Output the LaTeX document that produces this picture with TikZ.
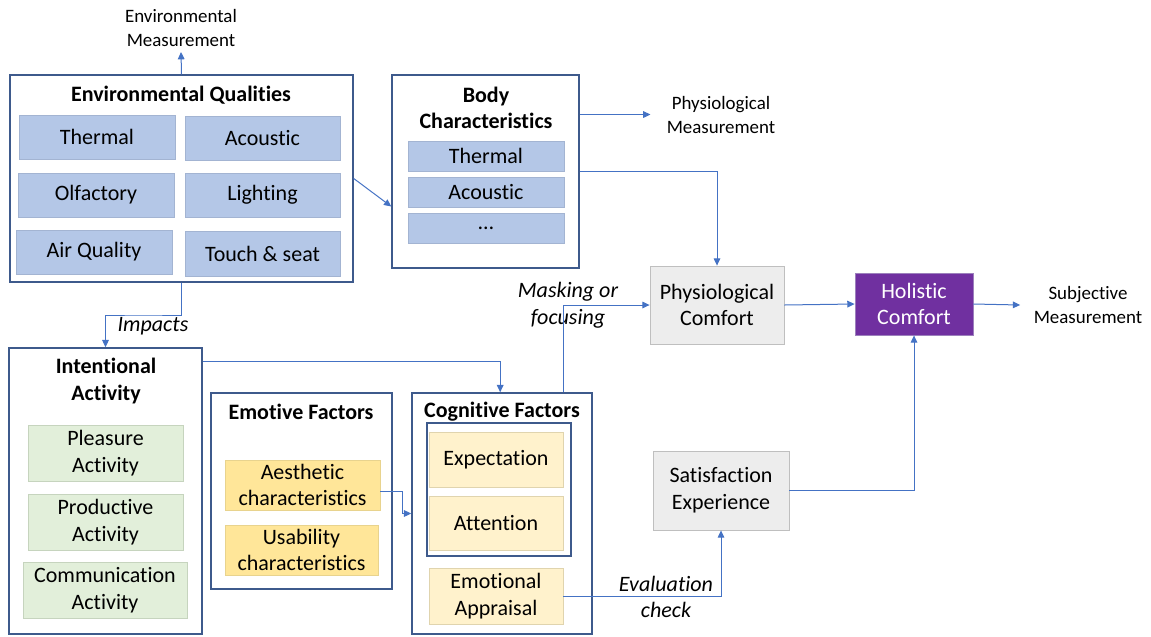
\documentclass[tikz,border=0pt]{standalone}
\usepackage{fontspec}
\setmainfont{Carlito}[Ligatures={NoCommon}]
\usetikzlibrary{arrows.meta,calc}
\definecolor{outerc}{HTML}{3E5A8C}
\definecolor{arrc}{HTML}{4472C4}
\definecolor{bluef}{HTML}{B4C7E7}
\definecolor{blueb}{HTML}{A3B4D2}
\definecolor{greenf}{HTML}{E2EFDA}
\definecolor{greenb}{HTML}{C6D4BE}
\definecolor{goldf}{HTML}{FFE699}
\definecolor{goldb}{HTML}{E8D38E}
\definecolor{creamf}{HTML}{FFF2CC}
\definecolor{creamb}{HTML}{E0D4AE}
\definecolor{grayf}{HTML}{EDEDED}
\definecolor{grayb}{HTML}{BFBFBF}
\definecolor{purpf}{HTML}{7030A0}
\definecolor{purpb}{HTML}{9C80BC}
\newcommand\mainsz{\fontsize{16.5}{20}\selectfont}
\newcommand\lblsz{\fontsize{14.2}{17.6}\selectfont}
\newcommand\bx[7]{\node[#2, minimum width={(#5-#3)*0.75pt}, minimum height={(#6-#4)*0.75pt}] (#1) at ({(#3+#5)/2},{(#4+#6)/2}) {#7};}
\begin{document}
\begin{tikzpicture}[x=0.75pt,y=-0.75pt,
  outer/.style={draw=outerc, line width=1.1pt, fill=white, inner sep=0pt},
  inner/.style={draw=outerc, line width=1pt, inner sep=0pt},
  sub/.style={line width=0.6pt, font=\mainsz, align=center, inner sep=1pt},
  bluebox/.style={sub, draw=blueb, fill=bluef},
  greenbox/.style={sub, draw=greenb, fill=greenf},
  goldbox/.style={sub, draw=goldb, fill=goldf},
  creambox/.style={sub, draw=creamb, fill=creamf},
  graybox/.style={sub, draw=grayb, fill=grayf},
  purpbox/.style={sub, draw=purpb, fill=purpf, text=white},
  title/.style={font=\mainsz\bfseries, align=center, inner sep=1pt},
  lbl/.style={font=\lblsz, align=center, inner sep=2pt},
  ital/.style={font=\mainsz\itshape, align=center, inner sep=1pt},
  arr/.style={draw=arrc, line width=0.75pt, -{Triangle[length=5.5pt,width=5pt]}},
  ln/.style={draw=arrc, line width=0.75pt}
]
\useasboundingbox (0,0) rectangle (1151,636);

% outer boxes
\bx{eq}{outer}{10}{75}{353}{282}{}
\bx{bc}{outer}{392}{75}{579}{268}{}
\bx{ia}{outer}{9}{348}{202}{634}{}
\bx{ef}{outer}{211}{393}{392}{589}{}
\bx{cf}{outer}{412}{393}{592}{634}{}

% titles
\node[title] (eqt) at (181,95) {Environmental Qualities};
\node[title] (bct) at (486,108) {Body\\Characteristics};
\node[title] (iat) at (106,381) {Intentional\\Activity};
\node[title] (eft) at (301,412) {Emotive Factors};
\node[title] (cft) at (502,412) {Cognitive Factors};

% environmental qualities
\bx{eqth}{bluebox}{19}{115}{175}{159}{Thermal}
\bx{eqac}{bluebox}{185}{116}{340}{160}{Acoustic}
\bx{eqol}{bluebox}{18}{173}{174}{217}{Olfactory}
\bx{eqli}{bluebox}{185}{173}{340}{217}{Lighting}
\bx{eqai}{bluebox}{16}{230}{172}{274}{Air Quality}
\bx{eqto}{bluebox}{185}{231}{340}{276}{Touch \& seat}

% body characteristics
\bx{bcth}{bluebox}{408}{141}{564}{171}{Thermal}
\bx{bcac}{bluebox}{408}{177}{564}{207}{Acoustic}
\bx{bcdo}{bluebox}{408}{213}{564}{243}{\dots}

% intentional activity
\bx{iapl}{greenbox}{28}{425}{183}{481}{Pleasure\\Activity}
\bx{iapr}{greenbox}{28}{494}{183}{550}{Productive\\Activity}
\bx{iaco}{greenbox}{23}{562}{187}{618}{Communication\\Activity}

% emotive factors
\bx{aes}{goldbox}{225}{460}{380}{510}{Aesthetic\\characteristics}
\bx{usa}{goldbox}{225}{525}{378}{575}{Usability\\characteristics}

% cognitive factors
\bx{cfin}{inner}{427}{423}{571}{556}{}
\bx{exp}{creambox}{429}{432}{563}{487}{Expectation}
\bx{att}{creambox}{429}{496}{563}{550}{Attention}
\bx{ea}{creambox}{429}{568}{563}{624}{Emotional\\Appraisal}

% right side boxes
\bx{pc}{graybox}{650}{266}{784}{344}{Physiological\\Comfort}
\bx{hc}{purpbox}{855}{273}{973}{335}{Holistic\\Comfort}
\bx{se}{graybox}{653}{451}{789}{530}{Satisfaction\\Experience}

% labels
\node[lbl] (envm) at (181,28) {Environmental\\Measurement};
\node[lbl] (phym) at (721,115) {Physiological\\Measurement};
\node[lbl] (subm) at (1088,305) {Subjective\\Measurement};
\node[ital] (mask) at (568,305) {Masking or\\focusing};
\node[ital] (imp) at (153,326) {Impacts};
\node[ital] (evc) at (666,597) {Evaluation\\check};

% connectors
\draw[arr] (eq.north) -- ([yshift=-2pt]envm.south);
\draw[arr] (eq.east) -- ($(bc.north west)!0.68!(bc.south west)$);
\draw[arr] ($(bc.north east)!0.207!(bc.south east)$) -- ([xshift=-10pt]phym.west |- {$(bc.north east)!0.207!(bc.south east)$});
\draw[arr] (bc.east) -| (pc.north);
\draw[arr] (pc.east) -- (hc.west);
\draw[arr] (hc.east) -- ([xshift=-8pt]subm.west);
\draw[arr] (se.east) -| (hc.south);
\draw[arr] ($(cf.north west)!0.84!(cf.north east)$) |- (pc.west);
\draw[arr] ($(ia.north east)!0.049!(ia.south east)$) -| ($(cf.north west)!0.49!(cf.north east)$);
\draw[arr] (eq.south) |- ($(eq.south)!0.5!(ia.north)$) -| (ia.north);
\draw[arr] ([yshift=-5pt]aes.east) -- ++(22,0) |- (cf.west);
\draw[arr] (ea.east) -| (se.south);
\end{tikzpicture}
\end{document}
